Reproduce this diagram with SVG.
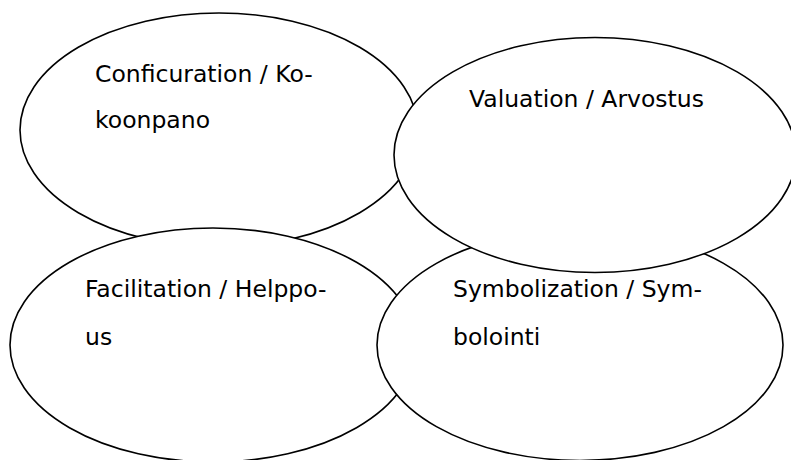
<svg xmlns="http://www.w3.org/2000/svg" width="791" height="460" viewBox="0 0 791 460">
<style>
.e{fill:#fff;stroke:#000;stroke-width:1.6}
.t{font-family:"DejaVu Sans",Verdana,sans-serif;font-size:23.5px;fill:#000}
</style>
<rect width="791" height="460" fill="#fff"/>
<g id="connectors"/>
<g id="configuration">
<ellipse class="e" cx="219" cy="130" rx="199" ry="117"/>
<text class="t" x="95" y="81.5">Conficuration / Ko-</text>
<text class="t" x="95" y="128">koonpano</text>
</g>
<g id="facilitation">
<ellipse class="e" cx="213" cy="345" rx="203" ry="117"/>
<text class="t" x="85" y="297">Facilitation / Helppo-</text>
<text class="t" x="85" y="345">us</text>
</g>
<g id="symbolization">
<ellipse class="e" cx="580" cy="345" rx="203" ry="115.5"/>
<text class="t" x="453" y="297">Symbolization / Sym-</text>
<text class="t" x="453" y="345">bolointi</text>
</g>
<g id="valuation">
<ellipse class="e" cx="595" cy="155" rx="201" ry="117.5"/>
<text class="t" x="469" y="107">Valuation / Arvostus</text>
</g>
</svg>
